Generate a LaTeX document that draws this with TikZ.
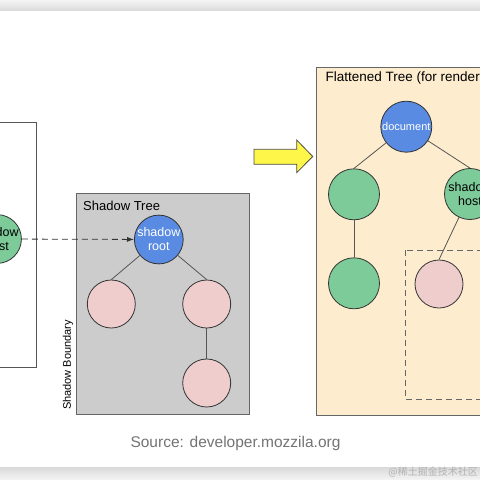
\documentclass[tikz,border=0pt]{standalone}
\usepackage{fontspec}
\setmainfont{Liberation Sans}
\newfontfamily\cjkfont{Noto Sans CJK SC}
\usepackage{xcolor}
\usetikzlibrary{arrows.meta}
\definecolor{rootblue}{HTML}{5A8BE2}
\definecolor{hostgreen}{HTML}{7ECB9A}
\definecolor{shadowpink}{HTML}{EFCDCD}
\definecolor{shadowgray}{HTML}{CCCCCC}
\definecolor{flatcream}{HTML}{FDEDCE}
\definecolor{arrowyellow}{HTML}{FFF64A}
\definecolor{linegray}{HTML}{555555}

\begin{document}
\begin{tikzpicture}[x=1pt,y=-1pt,
    treenode/.style={circle,draw=black!80,line width=0.8pt,minimum size=48pt,inner sep=0pt,
      align=center,font=\fontsize{12.5}{14}\selectfont},
    bignode/.style={treenode,minimum size=51pt},
    edge/.style={draw=linegray,line width=0.8pt},
    boxtitle/.style={anchor=west,inner sep=0pt,font=\fontsize{13.5}{15}\selectfont}]
    \useasboundingbox (0,0) rectangle (480,480);
    \clip (0,0) rectangle (480,480);

    % Frame bands
    \shade[top color=black!4,bottom color=black!14] (0,0) rectangle (480,10);
    \shade[top color=black!15,bottom color=black!4] (0,467) rectangle (480,480);

    % Light tree
    \draw[fill=white,draw=linegray] (-10,122) rectangle (35.7,366.7);
    \node[treenode,fill=hostgreen] (lhost) at (-3,239) {shadow\\host};

    % Shadow tree
    \draw[fill=shadowgray,draw=black!60] (76,193.3) rectangle (249.3,414.3);
    \node[boxtitle,font=\fontsize{13}{14}\selectfont] (stitle) at (83,206) {Shadow Tree};
    \node[rotate=90,inner sep=0pt,font=\fontsize{11}{13}\selectfont] (sbound) at (68,365) {Shadow Boundary};
    \node[treenode,fill=rootblue,text=white] (sroot) at (158.8,239.5) {shadow\\root};
    \node[treenode,fill=shadowpink] (sleft) at (111.3,304) {};
    \node[treenode,fill=shadowpink] (sright) at (206.7,304) {};
    \node[treenode,fill=shadowpink] (sbottom) at (206.7,383) {};

    \draw[edge] (sroot) -- (sleft.north);
    \draw[edge] (sroot) -- (sright.north);
    \draw[edge] (sright) -- (sbottom);
    \draw[dashed,dash pattern=on 6pt off 4pt,draw=black!80,line width=0.8pt,
      -{Latex[length=7pt,width=5pt]}] (lhost) -- (sroot);

    % Yellow arrow
    \draw[fill=arrowyellow,draw=black!70,line width=0.8pt]
      (254,149.3) -- (296.7,149.3) -- (296.7,140) -- (312.7,156.5)
      -- (296.7,172.7) -- (296.7,164.3) -- (254,164.3) -- cycle;

    % Flattened tree
    \draw[fill=flatcream,draw=black!60] (316,67.3) rectangle (500,415);
    \node[boxtitle] (ftitle) at (325.5,78) {Flattened Tree (for rendering)};
    \draw[dashed,dash pattern=on 6pt off 4pt,draw=black!60,line width=0.8pt] (405.7,250) rectangle (500,399.3);
    \node[bignode,fill=rootblue,text=white,font=\fontsize{11}{13}\selectfont] (fdoc) at (406.3,126.7) {document};
    \node[bignode,fill=hostgreen] (fleft) at (354,194.3) {};
    \node[bignode,fill=hostgreen] (fhost) at (470,194) {shadow\\host};
    \node[bignode,fill=hostgreen] (fbottom) at (354,283.3) {};
    \node[treenode,fill=shadowpink] (fpink) at (439,284) {};

    \draw[edge] (fdoc) -- (fleft.north);
    \draw[edge] (fdoc) -- (fhost.north);
    \draw[edge] (fleft) -- (fbottom);
    \draw[edge] (fhost) -- (fpink.north);

    % Captions
    \node[text=black!55,font=\fontsize{15.5}{18}\selectfont] (source) at (235.5,443) {Source: developer.mozzila.org};
    \node[anchor=east,inner sep=0pt,text=black!30,font=\cjkfont\fontsize{10}{12}\selectfont] (mark) at (478,472) {@稀土掘金技术社区};
\end{tikzpicture}
\end{document}
